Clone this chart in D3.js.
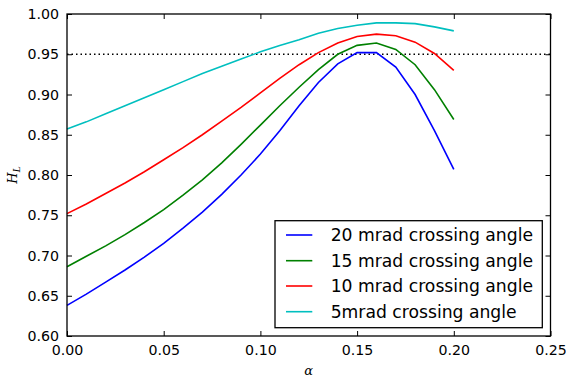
<!DOCTYPE html>
<html><head><meta charset="utf-8">
<script src="https://cdn.jsdelivr.net/npm/d3@7"></script>
<style>body{margin:0;background:#fff}svg{display:block}</style>
</head><body>
<svg id="c" width="566" height="380"></svg>
<script>
const alpha = [0.00,0.01,0.02,0.03,0.04,0.05,0.06,0.07,0.08,0.09,0.10,0.11,0.12,0.13,0.14,0.15,0.16,0.17,0.18,0.19,0.20];
const mrad20 = [0.638,0.652,0.667,0.682,0.698,0.715,0.734,0.754,0.776,0.800,0.826,0.855,0.886,0.915,0.938,0.952,0.952,0.934,0.900,0.855,0.807];
const mrad15 = [0.686,0.699,0.712,0.726,0.741,0.757,0.775,0.794,0.815,0.838,0.862,0.886,0.909,0.931,0.950,0.961,0.964,0.956,0.937,0.906,0.869];
const mrad10 = [0.752,0.764,0.777,0.790,0.804,0.819,0.834,0.850,0.867,0.884,0.902,0.920,0.937,0.952,0.964,0.972,0.975,0.973,0.965,0.951,0.930];
const mrad5  = [0.857,0.866,0.876,0.886,0.896,0.906,0.916,0.926,0.935,0.944,0.953,0.961,0.968,0.976,0.982,0.986,0.989,0.989,0.988,0.984,0.979];
const seriesNames = ["20 mrad crossing angle","15 mrad crossing angle","10 mrad crossing angle","5mrad crossing angle"];
const seriesColors = ["#0000ff","#008000","#ff0000","#00bfbf"];
const xTicks = [0.00,0.05,0.10,0.15,0.20,0.25];
const yTicks = [0.60,0.65,0.70,0.75,0.80,0.85,0.90,0.95,1.00];
const threshold = 0.95;

const series = [mrad20, mrad15, mrad10, mrad5];
const svg = d3.select("#c");
const L=67, R=550.5, T=14, B=336;
const x = d3.scaleLinear().domain([0,0.25]).range([L,R]);
const y = d3.scaleLinear().domain([0.6,1.0]).range([B,T]);
const font = "DejaVu Sans, sans-serif";

const g = svg.append("g");
// threshold dotted line
g.append("line").attr("x1",x(0)).attr("x2",x(0.25)).attr("y1",y(threshold)).attr("y2",y(threshold))
 .attr("stroke","#000").attr("stroke-width",1.5).attr("stroke-dasharray","1.5,3");

const line = d3.line().x((d,i)=>x(alpha[i])).y(d=>y(d));
series.forEach((s,k)=>{
  g.append("path").datum(s).attr("d",line).attr("fill","none")
   .attr("stroke",seriesColors[k]).attr("stroke-width",1.6).attr("stroke-linejoin","miter");
});

// axes (ticks inside)
const tl = 5;
const ax = [
  {a:d3.axisBottom(x).tickValues(xTicks).tickFormat(d3.format(".2f")).tickSizeInner(-tl).tickSizeOuter(0).tickPadding(9), t:`translate(0,${B})`, lab:true},
  {a:d3.axisTop(x).tickValues(xTicks).tickSizeInner(-tl).tickSizeOuter(0).tickFormat(""), t:`translate(0,${T})`},
  {a:d3.axisLeft(y).tickValues(yTicks).tickFormat(d3.format(".2f")).tickSizeInner(-tl).tickSizeOuter(0).tickPadding(8), t:`translate(${L},0)`, lab:true},
  {a:d3.axisRight(y).tickValues(yTicks).tickSizeInner(-tl).tickSizeOuter(0).tickFormat(""), t:`translate(${R},0)`}
];
ax.forEach(o=>{
  const gg = svg.append("g").attr("transform",o.t).call(o.a);
  gg.select(".domain").remove();
  gg.selectAll(".tick line").attr("stroke","#000").attr("stroke-width",1);
  gg.selectAll(".tick text").attr("font-family",font).attr("font-size",14.2).attr("fill","#000");
});
// frame
svg.append("rect").attr("x",L).attr("y",T).attr("width",R-L).attr("height",B-T)
  .attr("fill","none").attr("stroke","#000").attr("stroke-width",1.3);

// axis labels
const yl = svg.append("text").attr("transform","translate(17,175) rotate(-90)")
  .attr("text-anchor","middle").attr("font-family","DejaVu Serif, serif").attr("font-style","italic").attr("font-size",13);
yl.append("tspan").text("H");
yl.append("tspan").attr("font-size",9).attr("dy",3).text("L");
svg.append("text").attr("x",(L+R)/2).attr("y",375).attr("text-anchor","middle")
  .attr("font-family","DejaVu Serif, serif").attr("font-style","italic").attr("font-size",13).text("α");

// legend
const lg = svg.append("g");
lg.append("rect").attr("x",275).attr("y",220.7).attr("width",267.3).attr("height",107)
  .attr("fill","#fff").attr("stroke","#000").attr("stroke-width",1.3);
const ly = [235,260.7,286,311.7];
seriesNames.forEach((n,k)=>{
  lg.append("line").attr("x1",286).attr("x2",312.3).attr("y1",ly[k]).attr("y2",ly[k])
    .attr("stroke",seriesColors[k]).attr("stroke-width",1.6);
  lg.append("text").attr("x",330.7).attr("y",ly[k]).attr("dy","0.36em")
    .attr("font-family",font).attr("font-size",17.2).attr("fill","#000").text(n);
});
</script>
</body></html>
